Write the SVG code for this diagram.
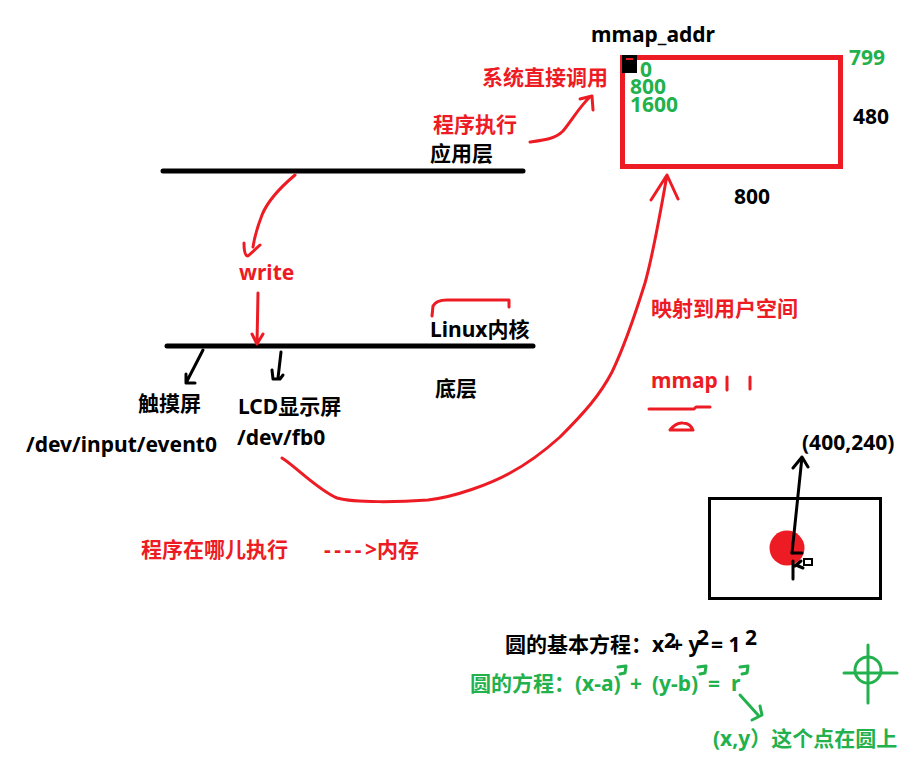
<svg xmlns="http://www.w3.org/2000/svg" width="922" height="757" viewBox="0 0 922 757">
<style>
text{font-family:"Noto Sans","Noto Sans CJK SC",sans-serif;font-weight:bold;font-size:21px}
.k{fill:#000}
.r{fill:#ed1c24}
.g{fill:#22b14c}
.sk{stroke:#000;fill:none;stroke-width:3;stroke-linecap:round;stroke-linejoin:round}
.sr{stroke:#ed1c24;fill:none;stroke-width:3;stroke-linecap:round;stroke-linejoin:round}
.sg{stroke:#22b14c;fill:none;stroke-width:3;stroke-linecap:round;stroke-linejoin:round}
.layer{stroke:#000;stroke-width:5;stroke-linecap:round}
</style>
<rect width="922" height="757" fill="#fff"/>

<g id="layer-app">
<line class="layer" x1="163" y1="171" x2="523" y2="171"/>
<text class="k" x="430" y="161">应用层</text>
<text class="r" x="433" y="132">程序执行</text>
</g>

<g id="syscall-label">
<text class="r" x="482" y="85">系统直接调用</text>
</g>

<g id="framebuffer">
<rect x="622.5" y="57.5" width="218" height="109" fill="none" stroke="#ed1c24" stroke-width="5"/>
<rect x="622" y="55" width="15" height="18" fill="#000"/>
<line x1="626" y1="59" x2="633" y2="59" stroke="#ed1c24" stroke-width="2"/>
<text class="k" x="591" y="42">mmap_addr</text>
<text class="g" x="640" y="77">0</text>
<text class="g" x="630" y="94">800</text>
<text class="g" x="630" y="112">1600</text>
<text class="g" x="849" y="65">799</text>
<text class="k" x="853" y="124">480</text>
<text class="k" x="734" y="204">800</text>
</g>

<g id="write-label">
<text class="r" x="239" y="280">write</text>
</g>

<g id="layer-kernel">
<line class="layer" x1="167" y1="346" x2="533" y2="346"/>
<path class="sr" d="M432,316 L433,306 Q436,300 447,300 L509,300 L509,307"/>
<text class="k" x="430" y="337">Linux内核</text>
<text class="k" x="435" y="396">底层</text>
</g>

<g id="touchscreen">
<text class="k" x="138" y="411">触摸屏</text>
<text class="k" x="26" y="452">/dev/input/event0</text>
</g>

<g id="lcd">
<text class="k" x="238" y="414">LCD显示屏</text>
<text class="k" x="237" y="445">/dev/fb0</text>
</g>

<g id="mmap-note">
<text class="r" x="651" y="316">映射到用户空间</text>
<text class="r" x="651" y="388">mmap</text>
<path class="sr" d="M727,377 L727,390 M750,377 L750,389"/>
<path class="sr" d="M649,409 L694,409 L696,407 L710,407"/>
<path class="sr" d="M670,430 Q676,422 683,423 Q690,423 693,430 Z"/>
</g>

<g id="screen">
<rect x="709.5" y="498.5" width="171" height="100" fill="none" stroke="#000" stroke-width="3"/>
<circle cx="787" cy="548" r="17.5" fill="#ed1c24"/>
<text class="k" x="802" y="450">(400,240)</text>
<path class="sk" d="M792,553 L802,553"/>
<path class="sk" d="M793,561 L793,579 M795,566 L801,561 M796,565 L803,568"/>
<rect x="804" y="559" width="8" height="6" fill="none" stroke="#000" stroke-width="2"/>
</g>

<g id="exec-note">
<text class="r" x="141" y="557">程序在哪儿执行<tspan x="324" letter-spacing="3.5">----&gt;</tspan><tspan x="377">内存</tspan></text>
</g>

<g id="equation-basic">
<text class="k" x="505" y="652">圆的基本方程：x<tspan x="664" y="648">2</tspan><tspan x="671" y="652">+ y</tspan><tspan x="697" y="645">2</tspan><tspan x="711" y="652">= 1</tspan><tspan x="745" y="645">2</tspan></text>
</g>

<g id="equation-circle">
<text class="g" x="470" y="691">圆的方程：<tspan x="575">(x-a)</tspan><tspan x="630">+</tspan><tspan x="652">(y-b)</tspan><tspan x="708">=</tspan><tspan x="731">r</tspan></text>
<path class="sg" d="M618,667 L626,666 L625,673 L620,674 M698,667 L706,666 L705,673 L700,674 M740,667 L748,666 L747,673 L742,674"/>
<text class="g" x="713" y="746">(x,y）这个点在圆上</text>
</g>

<g id="crosshair">
<circle cx="868" cy="670" r="13" class="sg"/>
<path class="sg" d="M844,673 L897,673 M868,645 L868,703"/>
</g>

<g id="connectors">
<path class="sr" d="M295,175 C282,186 268,200 262,215 C257,228 254,240 253,247"/>
<path class="sr" d="M244,243 Q244,256 248,256 L260,245"/>
<path class="sr" d="M258,293 L257,344 M252,334 L257,344 L263,334"/>
<path class="sk" d="M203,350 L186,383 M186,374 L186,383 L195,383"/>
<path class="sk" d="M281,352 L278,378 M272,370 L273,379 L280,379 L283,375"/>
<path class="sr" d="M530,142 C545,140 555,139 563,131 C572,120 580,106 590,97 M580,99 L592,96 L593,110"/>
<path class="sr" d="M282,458 C295,466 318,490 337,498 C355,503 400,502 428,500 C455,497 490,484 510,473 C525,465 540,455 560,437 C585,412 600,395 612,372 C625,345 635,315 645,283 C653,255 660,215 667,175 M651,200 L667,175 L678,199"/>
<path class="sk" d="M792,553 L802,457 M793,468 L802,457 L808,467"/>
<path class="sg" d="M740,695 L758,715 M752,720 L762,715 L760,706"/>
</g>
</svg>
